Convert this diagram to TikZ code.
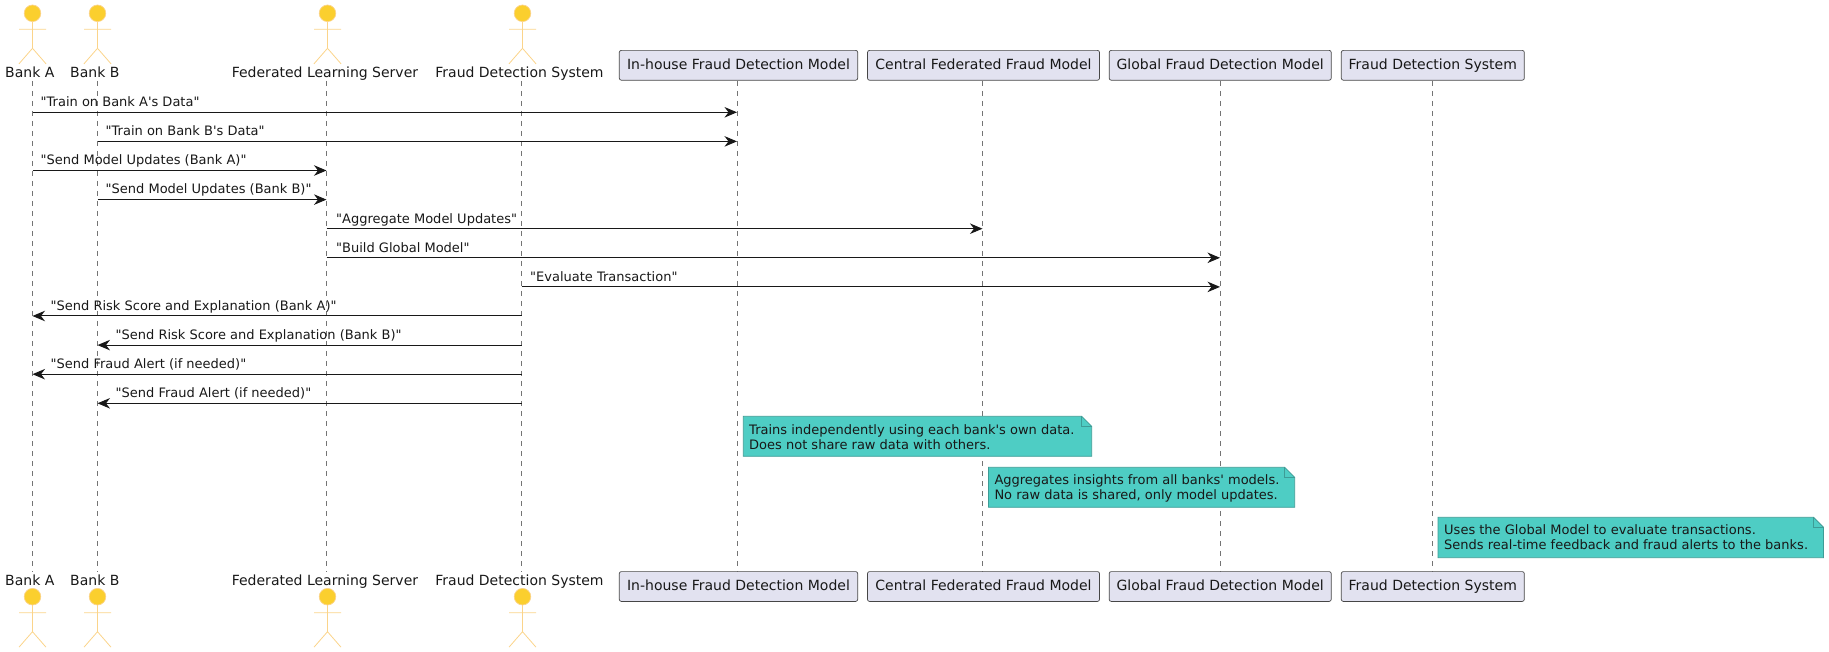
\documentclass[tikz,border=0pt]{standalone}
\usepackage{fontspec}
\newfontfamily\plainface{DejaVu Sans}
\usetikzlibrary{arrows.meta}
\definecolor{actorfill}{HTML}{FBCF2E}
\definecolor{actorline}{HTML}{FBD48A}
\definecolor{boxfill}{HTML}{E2E2F0}
\definecolor{inkline}{HTML}{181818}
\definecolor{notefill}{HTML}{4ECDC4}
\definecolor{noteline}{HTML}{3E9C96}
\tikzset{
	lifeline/.style={inkline!60, line width=0.8pt, dash pattern=on 5pt off 5pt},
	msg/.style={inkline, line width=1pt, -{Stealth[length=12.5pt,width=10.5pt,inset=4pt]}},
	msgtext/.style={inner sep=0pt, anchor=base west, text=inkline, font=\plainface\fontsize{13}{15}\selectfont},
	nametext/.style={inner sep=0pt, anchor=base, text=inkline, font=\plainface\fontsize{14}{17}\selectfont},
	partbox/.style={draw=inkline!80, fill=boxfill, rounded corners=2pt, line width=0.7pt, inner sep=0pt, minimum height=29.8pt, text height=10.5pt, text depth=3pt, text=inkline, font=\plainface\fontsize{14}{17}\selectfont},
	notetext/.style={inner sep=0pt, anchor=north west, align=left, text=inkline, font=\plainface\fontsize{13}{15.3}\selectfont},
	notebody/.style={fill=notefill, draw=noteline, line width=0.8pt},
	actorhead/.style={fill=actorfill, draw=actorline, line width=0.7pt},
	actorbody/.style={draw=actorline, line width=0.8pt}
}
\newcommand{\stickman}[2]{%
	\draw[actorhead] (#1,#2) circle (8.3pt);
	\draw[actorbody] (#1,#2+8.3) -- (#1,#2+35) (#1-13.5,#2+16) -- (#1+13.5,#2+16) (#1-13.5,#2+50.5) -- (#1,#2+35) -- (#1+13.5,#2+50.5);
}
\newcommand{\notesheet}[4]{%
	\draw[notebody] (#1,#2) -- (#3-10,#2) -- (#3,#2+10) -- (#3,#4) -- (#1,#4) -- cycle;
	\draw[notebody, fill=none] (#3-10,#2) -- (#3-10,#2+10) -- (#3,#2+10);
}
\begin{document}
\begin{tikzpicture}[x=1pt, y=-1pt]
	\useasboundingbox (0,0) rectangle (1829,652);

	\coordinate (topA) at (32.5,81);
	\coordinate (topB) at (97.5,81);
	\coordinate (topS) at (326.5,81);
	\coordinate (topF) at (521.5,81);
	\coordinate (topH) at (737,81);
	\coordinate (topC) at (982.5,81);
	\coordinate (topG) at (1220,81);
	\coordinate (topY) at (1432,81);
	\coordinate (endA) at (32.5,572);
	\coordinate (endB) at (97.5,572);
	\coordinate (endS) at (326.5,572);
	\coordinate (endF) at (521.5,572);
	\coordinate (endH) at (737,572);
	\coordinate (endC) at (982.5,572);
	\coordinate (endG) at (1220,572);
	\coordinate (endY) at (1432,572);

	\draw[lifeline] (topA) -- (endA);
	\draw[lifeline] (topB) -- (endB);
	\draw[lifeline] (topS) -- (endS);
	\draw[lifeline] (topF) -- (endF);
	\draw[lifeline] (topH) -- (endH);
	\draw[lifeline] (topC) -- (endC);
	\draw[lifeline] (topG) -- (endG);
	\draw[lifeline] (topY) -- (endY);

	\stickman{32.5}{13.3}
	\stickman{97.5}{13.3}
	\stickman{327.5}{13.3}
	\stickman{522.5}{13.3}
	\node[nametext] (bankA) at (29.8,77.7) {Bank A};
	\node[nametext] (bankB) at (94.8,77.7) {Bank B};
	\node[nametext] (server) at (325,77.7) {Federated Learning Server};
	\node[nametext] (system) at (519.5,77.7) {Fraud Detection System};

	\stickman{32.5}{596.7}
	\stickman{97.5}{596.7}
	\stickman{327.5}{596.7}
	\stickman{522.5}{596.7}
	\node[nametext] (bankA2) at (29.8,585) {Bank A};
	\node[nametext] (bankB2) at (94.8,585) {Bank B};
	\node[nametext] (server2) at (325,585) {Federated Learning Server};
	\node[nametext] (system2) at (519.5,585) {Fraud Detection System};

	\node[partbox, minimum width=238.4pt] (house) at (738.5,65.3) {In-house Fraud Detection Model};
	\node[partbox, minimum width=232pt] (central) at (983.5,65.3) {Central Federated Fraud Model};
	\node[partbox, minimum width=222pt] (global) at (1220.2,65.3) {Global Fraud Detection Model};
	\node[partbox, minimum width=183pt] (fraud) at (1432.8,65.3) {Fraud Detection System};
	\node[partbox, minimum width=238.4pt] (house2) at (738.5,586.5) {In-house Fraud Detection Model};
	\node[partbox, minimum width=232pt] (central2) at (983.5,586.5) {Central Federated Fraud Model};
	\node[partbox, minimum width=222pt] (global2) at (1220.2,586.5) {Global Fraud Detection Model};
	\node[partbox, minimum width=183pt] (fraud2) at (1432.8,586.5) {Fraud Detection System};

	\coordinate (r1) at (0,112.3);
	\coordinate (r2) at (0,141.4);
	\coordinate (r3) at (0,170.5);
	\coordinate (r4) at (0,199.6);
	\coordinate (r5) at (0,228.7);
	\coordinate (r6) at (0,257.8);
	\coordinate (r7) at (0,286.9);
	\coordinate (r8) at (0,316);
	\coordinate (r9) at (0,345.1);
	\coordinate (r10) at (0,374.2);
	\coordinate (r11) at (0,403.3);

	\draw[msg] (topA |- r1) -- (topH |- r1);
	\draw[msg] (topB |- r2) -- (topH |- r2);
	\draw[msg] (topA |- r3) -- (topS |- r3);
	\draw[msg] (topB |- r4) -- (topS |- r4);
	\draw[msg] (topS |- r5) -- (topC |- r5);
	\draw[msg] (topS |- r6) -- (topG |- r6);
	\draw[msg] (topF |- r7) -- (topG |- r7);
	\draw[msg] (topF |- r8) -- (topA |- r8);
	\draw[msg] (topF |- r9) -- (topB |- r9);
	\draw[msg] (topF |- r10) -- (topA |- r10);
	\draw[msg] (topF |- r11) -- (topB |- r11);

	\node[msgtext] (m1) at (40.5,106.7) {"Train on Bank A's Data"};
	\node[msgtext] (m2) at (105.5,135.8) {"Train on Bank B's Data"};
	\node[msgtext] (m3) at (40.5,164.9) {"Send Model Updates (Bank A)"};
	\node[msgtext] (m4) at (105.5,194) {"Send Model Updates (Bank B)"};
	\node[msgtext] (m5) at (336,223.1) {"Aggregate Model Updates"};
	\node[msgtext] (m6) at (336,252.2) {"Build Global Model"};
	\node[msgtext] (m7) at (530,281.3) {"Evaluate Transaction"};
	\node[msgtext] (m8) at (50.5,310.4) {"Send Risk Score and Explanation (Bank A)"};
	\node[msgtext] (m9) at (115.5,339.5) {"Send Risk Score and Explanation (Bank B)"};
	\node[msgtext] (m10) at (50.5,368.6) {"Send Fraud Alert (if needed)"};
	\node[msgtext] (m11) at (115.5,397.7) {"Send Fraud Alert (if needed)"};

	\notesheet{743.3}{416.3}{1091.7}{456.3}
	\notesheet{988.5}{467.3}{1294.7}{507.3}
	\notesheet{1438}{517.3}{1823.5}{557.7}
	\node[notetext] (note1) at (749,424.3) {Trains independently using each bank's own data.\\Does not share raw data with others.};
	\node[notetext] (note2) at (994.3,474.5) {Aggregates insights from all banks' models.\\No raw data is shared, only model updates.};
	\node[notetext] (note3) at (1444,524.5) {Uses the Global Model to evaluate transactions.\\Sends real-time feedback and fraud alerts to the banks.};
\end{tikzpicture}
\end{document}
